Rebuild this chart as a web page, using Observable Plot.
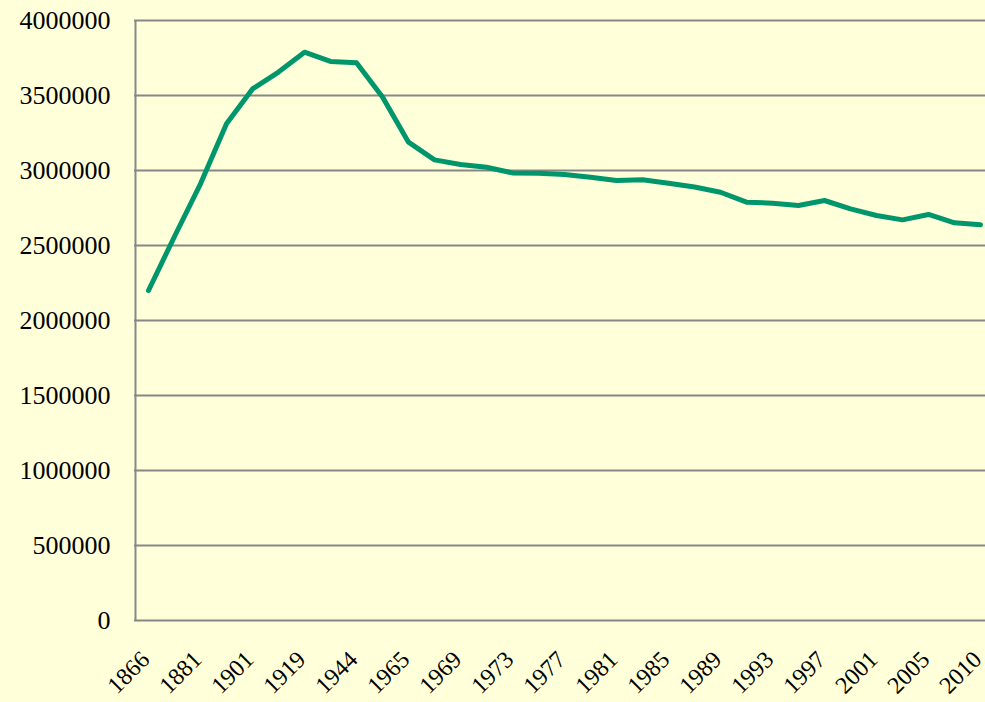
<!DOCTYPE html>
<html>
<head>
<meta charset="utf-8">
<script src="https://cdn.jsdelivr.net/npm/d3@7"></script>
<script src="https://cdn.jsdelivr.net/npm/@observablehq/plot@0.6"></script>
<style>
  html, body { margin: 0; padding: 0; background: #FFFFDA; }
  #chart svg { display: block; }
  #chart g[aria-label="y-axis tick label"], #chart g[aria-label="y-axis tick label"] text { font-size: 26px !important; }
  #chart g[aria-label="x-axis tick label"], #chart g[aria-label="x-axis tick label"] text { font-size: 24px !important; }
</style>
</head>
<body>
<div id="chart"></div>
<script>
// Category years (labels shown on every other category)
const years = ["1866","1871","1881","1891","1901","1911","1919","1931","1944","1951",
  "1965","1967","1969","1971","1973","1975","1977","1979","1981","1983",
  "1985","1987","1989","1991","1993","1995","1997","1999","2001","2003",
  "2005","2008","2010"];
const population = [2200000, 2560000, 2911000, 3311000, 3544000, 3656000, 3789000, 3727000, 3718000, 3490000,
  3189000, 3071000, 3040000, 3022000, 2984000, 2982000, 2973000, 2955000, 2933000, 2938000,
  2915000, 2890000, 2855000, 2789000, 2782000, 2767000, 2800000, 2744000, 2700000, 2671000,
  2707000, 2651000, 2638000];
const shownLabels = years.filter((d, i) => i % 2 === 0);
const yTicks = [0, 500000, 1000000, 1500000, 2000000, 2500000, 3000000, 3500000, 4000000];

const data = years.map((y, i) => ({year: y, value: population[i]}));

const chart = Plot.plot({
  width: 985,
  height: 702,
  marginLeft: 134,
  marginRight: 0,
  marginTop: 20,
  marginBottom: 82,
  style: {background: "#FFFFDA", fontFamily: "'Liberation Serif', 'DejaVu Serif', serif", fontSize: "22px", color: "#000"},
  x: {type: "point", domain: years, range: [147, 980], padding: 0, label: null},
  y: {domain: [0, 4000000], range: [620, 20], label: null},
  marks: [
    Plot.ruleY(yTicks, {stroke: "#878787", strokeWidth: 2, strokeOpacity: 1}),
    Plot.ruleX([years[0]], {stroke: "#878787", strokeWidth: 2, y1: 0, y2: 4000000, dx: -13}),
    Plot.axisY(yTicks, {tickSize: 0, tickPadding: 24, tickFormat: d => String(d), fill: "#000"}),
    Plot.axisX(shownLabels, {tickSize: 0, tickRotate: -45, tickPadding: 10, fill: "#000", dx: -3, dy: 25}),
    Plot.line(data, {x: "year", y: "value", stroke: "#00966C", strokeWidth: 5, strokeLinejoin: "round", strokeLinecap: "round"})
  ]
});
document.getElementById("chart").appendChild(chart);
</script>
</body>
</html>
